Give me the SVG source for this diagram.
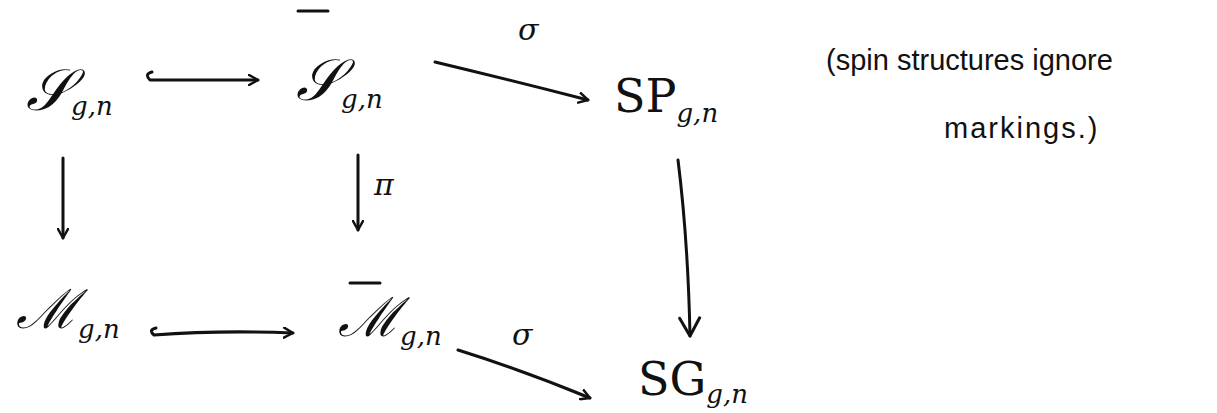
<svg xmlns="http://www.w3.org/2000/svg" width="1217" height="413" viewBox="0 0 1217 413">
<style>
.t{font-family:"DejaVu Serif","Liberation Serif",serif;fill:#111;font-style:italic;font-size:58px}
.m{font-size:54px}
.r{font-style:normal;font-size:46px}
.sub{font-size:26px}
.lbl{font-family:"DejaVu Serif","Liberation Serif",serif;font-size:30px;font-style:italic;fill:#111}
.note{font-family:"Liberation Sans",sans-serif;font-size:29px;fill:#111}
.c{fill:none;stroke:#111;stroke-width:3;stroke-linecap:round;stroke-linejoin:round}
</style>
<defs>
<marker id="ah" viewBox="0 0 12 12" refX="10" refY="6" markerWidth="12" markerHeight="12" markerUnits="userSpaceOnUse" orient="auto">
<polyline points="1,1 10,6 1,11" fill="none" stroke="#111" stroke-width="2.5" stroke-linecap="round" stroke-linejoin="round"/>
</marker>
<marker id="ahb" viewBox="0 0 24 24" refX="20" refY="12" markerWidth="24" markerHeight="24" markerUnits="userSpaceOnUse" orient="auto">
<polyline points="2,2 20,12 2,22" fill="none" stroke="#111" stroke-width="3" stroke-linecap="round" stroke-linejoin="round"/>
</marker>
</defs>
<g id="connectors">
<path class="c" d="M152 72 Q144 74 150 80 L258 80" marker-end="url(#ah)"/>
<path class="c" d="M435 62 Q510 80 588 100" marker-end="url(#ah)"/>
<path class="c" d="M63 158 L63 238" marker-end="url(#ah)"/>
<path class="c" d="M358 155 L358 230" marker-end="url(#ah)"/>
<path class="c" d="M678 160 Q688 240 690 336" marker-end="url(#ahb)"/>
<path class="c" d="M156 328 Q148 330 154 335 Q220 330 293 333" marker-end="url(#ah)"/>
<path class="c" d="M458 350 Q522 370 590 398" marker-end="url(#ah)"/>
<text class="lbl" x="518" y="40">σ</text>
<text class="lbl" x="374" y="195">π</text>
<text class="lbl" x="512" y="345">σ</text>
</g>
<g id="node-S">
<text class="t" x="26" y="110">𝒮<tspan class="sub" dy="5">g,n</tspan></text>
</g>
<g id="node-Sbar">
<line class="c" x1="298" y1="11" x2="328" y2="11"/>
<text class="t" x="296" y="100">𝒮<tspan class="sub" dy="8">g,n</tspan></text>
</g>
<g id="node-SP">
<text class="t r" x="614" y="112">SP<tspan class="sub" font-style="italic" dy="10">g,n</tspan></text>
</g>
<g id="node-M">
<text class="t m" x="16" y="328">ℳ<tspan class="sub" dy="10">g,n</tspan></text>
</g>
<g id="node-Mbar">
<line class="c" x1="350" y1="283" x2="380" y2="283"/>
<text class="t m" x="338" y="336">ℳ<tspan class="sub" dy="9">g,n</tspan></text>
</g>
<g id="node-SG">
<text class="t r" x="638" y="395">SG<tspan class="sub" font-style="italic" dy="8">g,n</tspan></text>
</g>
<g id="note">
<text class="note" x="826" y="70">(spin structures ignore</text>
<text class="note" x="944" y="138" letter-spacing="2">markings.)</text>
</g>
</svg>
